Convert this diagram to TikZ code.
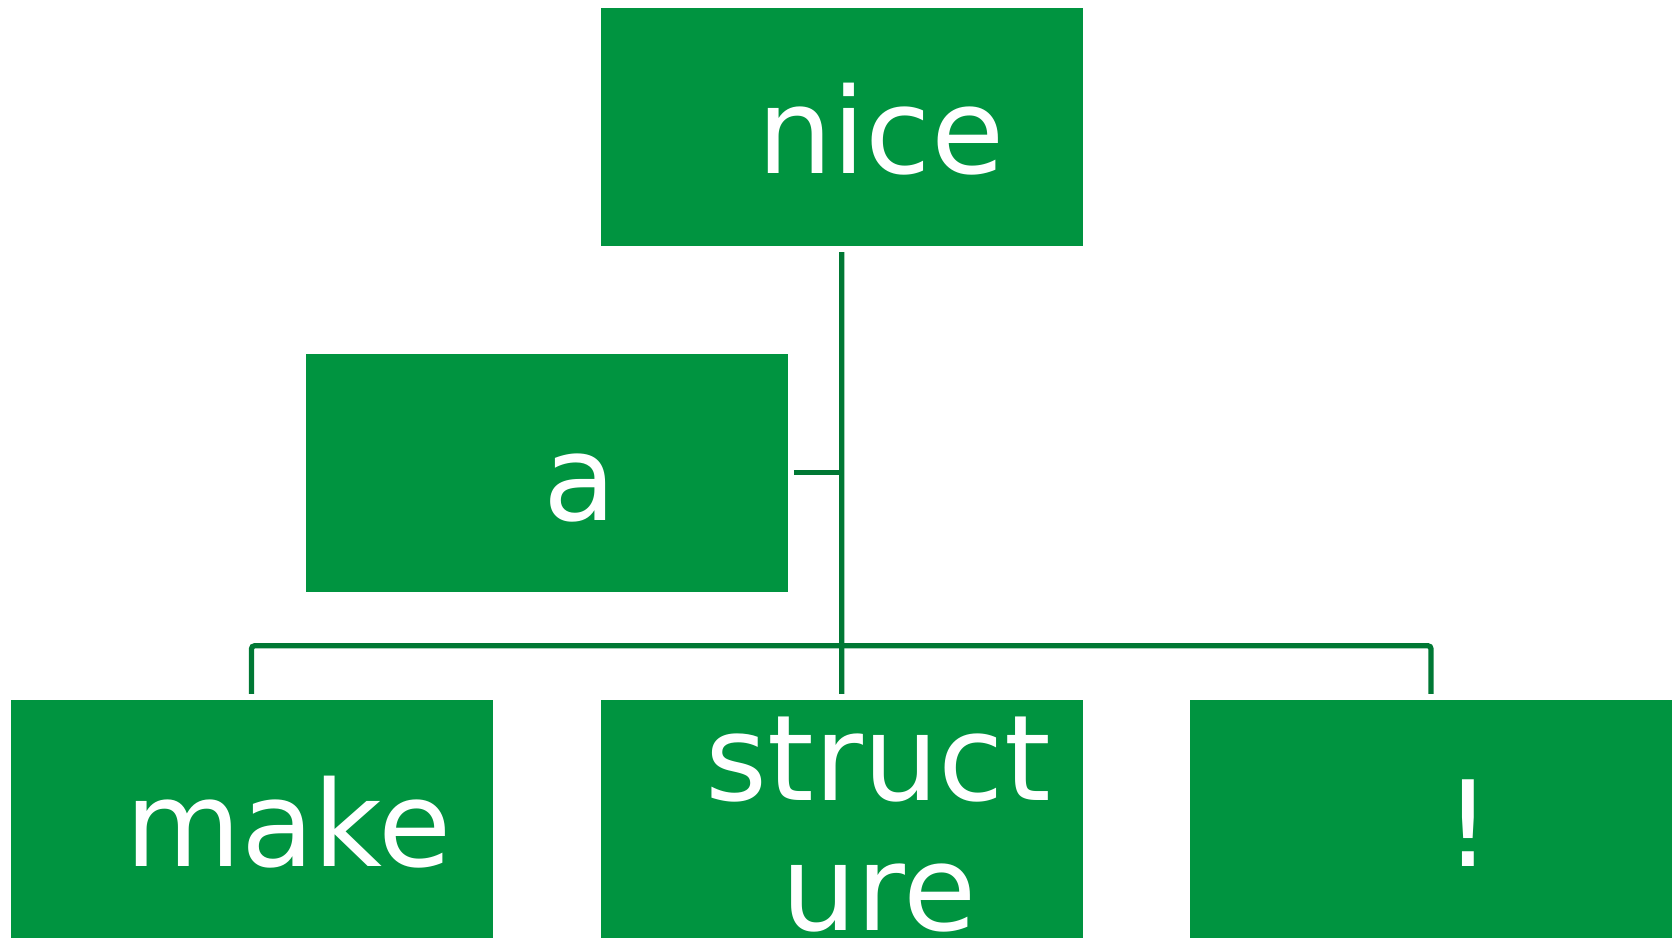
\documentclass[tikz,border=0pt]{standalone}
\usepackage{fontspec}
\setmainfont{DejaVu Sans}
\definecolor{boxgreen}{RGB}{0,148,64}
\definecolor{linegreen}{RGB}{0,120,52}
\begin{document}
\begin{tikzpicture}[x=1pt,y=-1pt,
  box/.style={rectangle,fill=boxgreen,draw=none,inner sep=0pt,
    minimum width=482pt,minimum height=238pt},
  txt/.style={text=white,inner sep=0pt,anchor=base,
    font=\fontsize{119}{130}\selectfont},
  conn/.style={draw=linegreen,line width=5.3pt,line cap=butt}]
\useasboundingbox (0,0) rectangle (1677,937);
% boxes
\node[box] (nice) at (841.7,127) {};
\node[box] (a) at (546.6,472.8) {};
\node[box] (make) at (251.5,819) {};
\node[box] (structure) at (841.8,819) {};
\node[box] (bang) at (1431,819) {};
% texts
\node[txt] (niceT) at (880.9,173.7) {nice};
\node[txt] (aT) at (580.2,520) {a};
\node[txt] (makeT) at (288.5,866) {make};
\node[txt] (structT1) at (878.5,800) {struct};
\node[txt] (structT2) at (879,930.5) {ure};
\node[txt] (bangT) at (1468.5,866) {!};
% connectors
\draw[conn,shorten <=6pt,shorten >=6pt] (nice.south) -- (structure.north);
\draw[conn,shorten <=6pt] (a.east) -- (a.east -| nice.south);
\draw[conn,rounded corners=3pt,shorten <=6pt,shorten >=6pt]
  (make.north) -- ++(0,-54) -| (bang.north);
\end{tikzpicture}
\end{document}
